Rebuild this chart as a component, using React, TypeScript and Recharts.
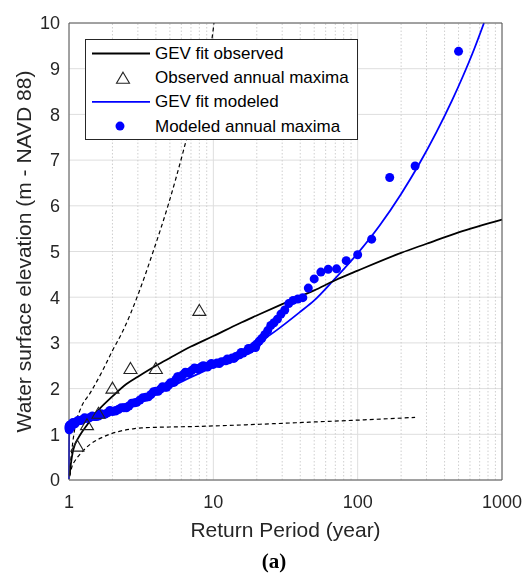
import React from 'react';
import { ComposedChart, Line, Scatter, XAxis, YAxis, CartesianGrid, ReferenceLine, Legend, Label } from 'recharts';

const FONT = '"Liberation Sans", Arial, Helvetica, sans-serif';
const INK = '#262626';
const BLUE = '#0000ff';

const xMajor = [1, 10, 100, 1000];
const xMinor = [2, 3, 4, 5, 6, 7, 8, 9, 20, 30, 40, 50, 60, 70, 80, 90, 200, 300, 400, 500, 600, 700, 800, 900];
const yTicks = [0, 1, 2, 3, 4, 5, 6, 7, 8, 9, 10];

// GEV fit to observed maxima, with its upper and lower dashed bounds
const obsFitT = [1.01, 1.03, 1.06, 1.1, 1.15, 1.23, 1.33, 1.45, 1.6, 2, 2.5, 3, 4, 5, 7, 10, 15, 20, 30, 50, 70, 100, 200, 300, 500, 1000];
const obsFitY = [0.1, 0.35, 0.6, 0.78, 0.9, 1.05, 1.2, 1.37, 1.53, 1.83, 2.1, 2.26, 2.5, 2.67, 2.92, 3.15, 3.42, 3.6, 3.85, 4.15, 4.37, 4.58, 4.97, 5.17, 5.42, 5.7];
const obsUpT = [1.01, 1.03, 1.06, 1.1, 1.2, 1.4, 1.7, 2, 2.37, 3.02, 3.84, 4.88, 6.2, 8, 10, 10.1];
const obsUpY = [0.12, 0.45, 0.8, 1.15, 1.55, 1.9, 2.38, 2.83, 3.27, 4.07, 5.01, 6.03, 7.2, 8.6, 9.88, 10];
const obsLoT = [1.01, 1.05, 1.1, 1.22, 1.4, 1.72, 2.2, 2.78, 3.2, 5, 7.2, 21, 50, 100, 250];
const obsLoY = [0.08, 0.3, 0.42, 0.6, 0.78, 0.94, 1.06, 1.12, 1.14, 1.16, 1.17, 1.22, 1.27, 1.31, 1.37];

// observed annual maxima
const obsT = [8, 4, 2.667, 2, 1.6, 1.333, 1.143];
const obsY = [3.7, 2.43, 2.43, 2.0, 1.45, 1.2, 0.73];

// GEV fit to modeled maxima
const modFitT = [1.0001, 1.0005, 1.001, 1.002, 1.004, 1.01, 1.03, 1.06, 1.1, 1.2, 1.6, 2, 2.59, 3.38, 5, 7, 10, 15, 20, 27.5, 40, 50, 67.5, 100, 142, 200, 262, 350, 450, 537, 640, 750];
const modFitY = [0.02, 0.45, 0.7, 0.88, 1.0, 1.1, 1.19, 1.24, 1.27, 1.33, 1.47, 1.58, 1.69, 1.81, 2.03, 2.25, 2.48, 2.76, 2.98, 3.28, 3.68, 3.93, 4.36, 4.96, 5.57, 6.26, 6.87, 7.6, 8.3, 8.84, 9.42, 10];

// modeled annual maxima
const modT = [500, 250, 166.7, 125, 100, 83.3, 71.4, 62.5, 55.6, 50, 45.5, 41.7, 38.5, 35.7, 33.3, 31.25, 29.4, 27.8, 26.3, 25,
  23.8, 22.7, 21.7, 20.8, 20, 19.6, 19.2, 18.5, 17.9, 17.5, 17.2, 16.1, 15.6, 15.2, 14.3, 13.9, 13.5, 12.8, 12.5, 12.2,
  11.4, 11, 10.6, 10, 9.7, 9.4, 9.1, 8.8, 8.5, 8.2, 7.9, 7.7, 7.4, 7.1, 6.8, 6.6, 6.4, 6.2, 6.0, 5.8,
  5.65, 5.5, 5.35, 5.2, 5.05, 4.9, 4.75, 4.6, 4.45, 4.3, 4.15, 4.0, 3.85, 3.7, 3.55, 3.4, 3.25, 3.1, 2.95, 2.85,
  2.72, 2.6, 2.5, 2.4, 2.3, 2.2, 2.1, 2.0, 1.92, 1.85, 1.78, 1.72, 1.66, 1.6, 1.55, 1.5, 1.45, 1.4, 1.36, 1.32,
  1.28, 1.25, 1.21, 1.18, 1.15, 1.12, 1.1, 1.08, 1.065, 1.05, 1.04, 1.03, 1.02, 1.015, 1.01, 1.007, 1.005, 1.003, 1.002, 1.001];
const modY = [9.38, 6.87, 6.62, 5.27, 4.93, 4.8, 4.62, 4.61, 4.55, 4.4, 4.2, 3.99, 3.96, 3.93, 3.86, 3.72, 3.63, 3.52, 3.44, 3.38,
  3.27, 3.18, 3.1, 3.04, 2.98, 2.9, 2.93, 2.89, 2.86, 2.88, 2.83, 2.78, 2.79, 2.74, 2.7, 2.66, 2.67, 2.63, 2.65, 2.61,
  2.59, 2.55, 2.56, 2.53, 2.55, 2.51, 2.47, 2.49, 2.5, 2.47, 2.42, 2.44, 2.45, 2.4, 2.34, 2.35, 2.36, 2.31, 2.25, 2.26,
  2.26, 2.2, 2.14, 2.13, 2.13, 2.08, 2.03, 2.03, 2.04, 1.99, 1.94, 1.94, 1.93, 1.87, 1.82, 1.81, 1.8, 1.75, 1.7, 1.69,
  1.68, 1.62, 1.58, 1.58, 1.58, 1.54, 1.51, 1.5, 1.52, 1.47, 1.44, 1.44, 1.45, 1.4, 1.39, 1.39, 1.4, 1.37, 1.35, 1.35,
  1.36, 1.33, 1.3, 1.3, 1.3, 1.27, 1.23, 1.24, 1.26, 1.21, 1.17, 1.19, 1.21, 1.17, 1.12, 1.19, 1.15, 1.1, 1.13, 1.17];

const legendNames = ['GEV fit observed', 'Observed annual maxima', 'GEV fit modeled', 'Modeled annual maxima'];

const zip = (xs: number[], ys: number[]) => xs.map((x, i) => ({ x, y: ys[i] }));

const obsFit = zip(obsFitT, obsFitY);
const obsUp = zip(obsUpT, obsUpY);
const obsLo = zip(obsLoT, obsLoY);
const obsPts = zip(obsT, obsY);
const modFit = zip(modFitT, modFitY);
const modPts = zip(modT, modY);

const triPath = (cx: number, cy: number) => `M${cx},${cy - 6.5}L${cx + 6.5},${cy + 4.5}L${cx - 6.5},${cy + 4.5}Z`;

const Triangle = (props: any) => <path d={triPath(props.cx, props.cy)} fill="none" stroke="#222" strokeWidth={1.1} />;
const Dot = (props: any) => <circle cx={props.cx} cy={props.cy} r={4.5} fill={BLUE} />;

const renderLegend = () => {
  const rows = [14.5, 38.7, 62.9, 87.1];
  return (
    <svg width={273} height={101} style={{ display: 'block' }}>
      <rect x={0.5} y={0.5} width={272} height={100} fill="#fff" stroke={INK} strokeWidth={1} />
      <line x1={7} x2={65} y1={rows[0]} y2={rows[0]} stroke="#000" strokeWidth={1.8} />
      <path d={triPath(38, rows[1] + 1)} fill="none" stroke="#222" strokeWidth={1.1} />
      <line x1={7} x2={65} y1={rows[2]} y2={rows[2]} stroke={BLUE} strokeWidth={1.8} />
      <circle cx={35} cy={rows[3]} r={4.5} fill={BLUE} />
      {legendNames.map((n, i) => (
        <text key={n} x={70} y={rows[i]} dominantBaseline="central" fontSize={17} fontFamily={FONT} fill="#000">{n}</text>
      ))}
    </svg>
  );
};

const tickStyle = { fontSize: 18, fill: INK, fontFamily: FONT };

export default function App() {
  return (
    <div style={{ position: 'fixed', left: 0, top: 0 }}>
      <ComposedChart width={526} height={575} margin={{ top: 23, right: 24, left: 0, bottom: 35 }}>
        <CartesianGrid stroke="#dedede" strokeWidth={1} />
        {xMinor.map(v => (
          <ReferenceLine key={v} x={v} stroke="#cfcfcf" strokeDasharray="1.5 2" />
        ))}
        <XAxis dataKey="x" type="number" scale="log" domain={[1, 1000]} ticks={xMajor} interval={0}
          tick={tickStyle} tickLine={false} tickMargin={9} axisLine={{ stroke: '#555' }} height={60}>
          <Label content={({ viewBox }: any) => (
            <g fontFamily={FONT}>
              <text x={viewBox.x + viewBox.width / 2} y={537} textAnchor="middle" fontSize={21} fill={INK}>Return Period (year)</text>
              <text x={274} y={568} textAnchor="middle" fontSize={21} fontWeight="bold" fontFamily='"Liberation Serif", "DejaVu Serif", serif' fill="#000">(a)</text>
            </g>
          )} />
        </XAxis>
        <XAxis xAxisId="bt" type="number" scale="log" domain={[1, 1000]} ticks={[...xMajor, ...xMinor]} interval={0}
          orientation="bottom" mirror tick={false} tickSize={5} tickLine={{ stroke: INK }} axisLine={false} height={1} allowDataOverflow />
        <XAxis xAxisId="tt" type="number" scale="log" domain={[1, 1000]} ticks={[...xMajor, ...xMinor]} interval={0}
          orientation="top" mirror tick={false} tickSize={5} tickLine={{ stroke: INK }} axisLine={{ stroke: '#555' }} height={1} allowDataOverflow />
        <YAxis type="number" domain={[0, 10]} ticks={yTicks} interval={0} tick={tickStyle} tickLine={false}
          tickMargin={3} axisLine={{ stroke: '#555' }} width={69}>
          <Label content={({ viewBox }: any) => {
            const cy = viewBox.y + viewBox.height / 2;
            return (
              <text x={23} y={cy} transform={`rotate(-90 23 ${cy})`} textAnchor="middle" dominantBaseline="central"
                fontSize={21} fontFamily={FONT} fill={INK}>Water surface elevation (m - NAVD 88)</text>
            );
          }} />
        </YAxis>
        <YAxis yAxisId="lt" type="number" domain={[0, 10]} ticks={yTicks} interval={0} orientation="left" mirror
          tick={false} tickSize={5} tickLine={{ stroke: INK }} axisLine={false} width={1} allowDataOverflow />
        <YAxis yAxisId="rt" type="number" domain={[0, 10]} ticks={yTicks} interval={0} orientation="right" mirror
          tick={false} tickSize={5} tickLine={{ stroke: INK }} axisLine={{ stroke: '#555' }} width={1} allowDataOverflow />

        <Scatter name="Modeled annual maxima" data={modPts} dataKey="y" shape={Dot} isAnimationActive={false} />
        <Line name="GEV fit modeled" data={modFit} dataKey="y" type="monotone" stroke={BLUE} strokeWidth={1.8} dot={false} isAnimationActive={false} />
        <Line name="upper" data={obsUp} dataKey="y" type="monotone" stroke="#000" strokeWidth={1.2} strokeDasharray="4 3" dot={false} isAnimationActive={false} />
        <Line name="lower" data={obsLo} dataKey="y" type="monotone" stroke="#000" strokeWidth={1.2} strokeDasharray="4 3" dot={false} isAnimationActive={false} />
        <Line name="GEV fit observed" data={obsFit} dataKey="y" type="monotone" stroke="#000" strokeWidth={1.8} dot={false} isAnimationActive={false} />
        <Scatter name="Observed annual maxima" data={obsPts} dataKey="y" shape={Triangle} isAnimationActive={false} />

        <Legend content={renderLegend} layout="vertical" align="center" verticalAlign="middle"
          wrapperStyle={{ left: 85, top: 39, width: 273, height: 101 }} />
      </ComposedChart>
    </div>
  );
}
